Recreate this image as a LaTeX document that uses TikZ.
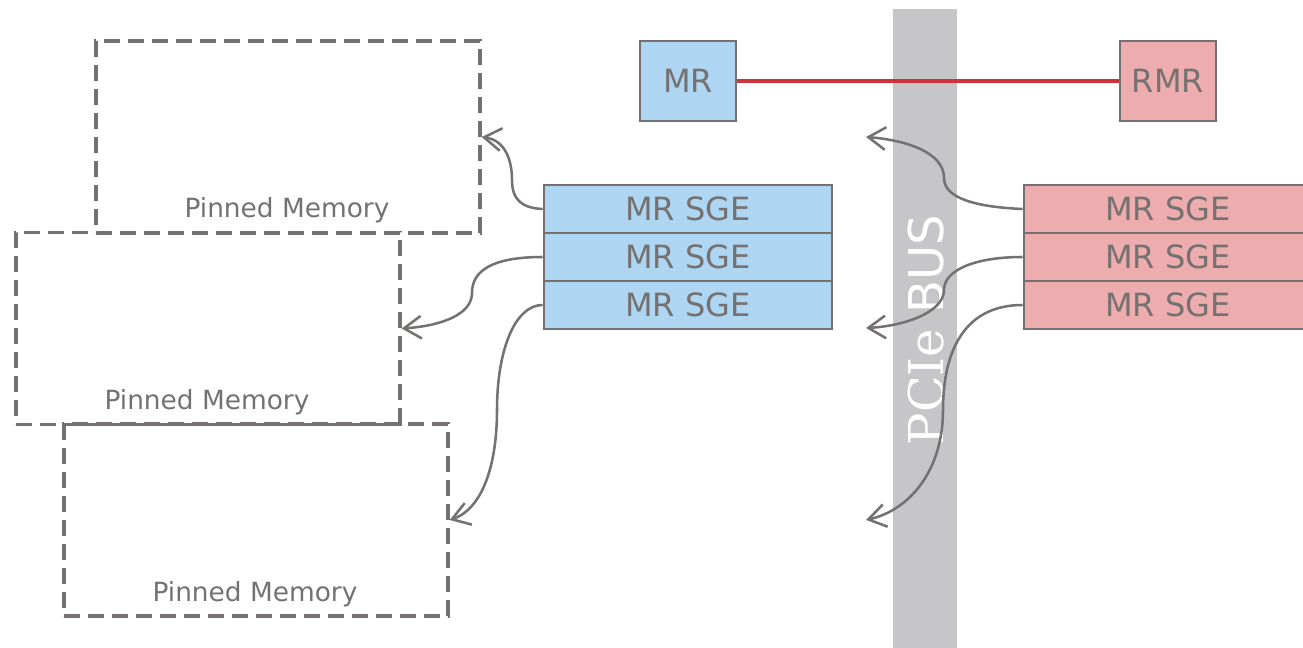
\documentclass[tikz,border=0pt]{standalone}
\usepackage{fontspec}
\setmainfont{DejaVu Sans}
\newfontfamily\pcserif{DejaVu Serif}
\usetikzlibrary{arrows.meta}
\definecolor{lgray}{HTML}{767171}
\definecolor{bfill}{HTML}{AED5F1}
\definecolor{pfill}{HTML}{EDADAE}
\definecolor{barc}{HTML}{C6C6C8}
\definecolor{redl}{HTML}{D0323A}
\tikzset{
  membox/.style={draw=lgray, line width=2.5pt, dash pattern=on 12pt off 6pt, minimum width=288pt, minimum height=144pt, inner sep=0pt},
  memlabel/.style={text=lgray, font=\fontsize{19.8}{23}\selectfont, inner sep=0pt},
  mrbox/.style={draw=lgray, line width=2.1pt, minimum width=72pt, minimum height=60pt, inner sep=0pt, text=lgray, font=\fontsize{24}{28}\selectfont, text depth=0pt, text height=17.5pt},
  sgebox/.style={draw=lgray, line width=2.1pt, minimum width=216pt, minimum height=36pt, inner sep=0pt, text=lgray, font=\fontsize{24}{28}\selectfont, text depth=0pt, text height=17.5pt},
  conn/.style={draw=lgray, line width=1.9pt, -{Straight Barb[length=13pt, width=17pt, line width=1.9pt]}},
}
\begin{document}
\begin{tikzpicture}[x=0.75pt, y=-0.75pt]
\useasboundingbox (0,0) rectangle (1303,648);
% PCIe bus
\fill[barc] (893,9) rectangle (957,648);
\node[rotate=90, text=white, font=\fontsize{36}{40}\selectfont, inner sep=0pt] (bus) at (926,330) {{\pcserif PCIe} BUS};
% pinned memory boxes
\node[membox] (box1) at (288,137) {};
\node[membox] (box2) at (208,328.5) {};
\node[membox] (box3) at (256,520) {};
\node[memlabel] (lab1) at (287,210) {Pinned Memory};
\node[memlabel] (lab2) at (207,402) {Pinned Memory};
\node[memlabel] (lab3) at (255,594) {Pinned Memory};
% MR / RMR
\node[mrbox, fill=bfill] (mr) at (688,81) {MR};
\node[mrbox, fill=pfill] (rmr) at (1168,81) {RMR};
\draw[redl, line width=2.5pt] (mr.east) -- (rmr.west);
% SGE stacks
\node[sgebox, fill=bfill] (b1) at (688,209) {MR SGE};
\node[sgebox, fill=bfill] (b2) at (688,257) {MR SGE};
\node[sgebox, fill=bfill] (b3) at (688,305) {MR SGE};
\node[sgebox, fill=pfill] (p1) at (1168,209) {MR SGE};
\node[sgebox, fill=pfill] (p2) at (1168,257) {MR SGE};
\node[sgebox, fill=pfill] (p3) at (1168,305) {MR SGE};
% free ends on the bus side
\coordinate (t1) at (866,137);
\coordinate (t2) at (866,328);
\coordinate (t3) at (866,520);
% left connectors
\draw[conn] (b1.west) .. controls (522,208) and (512,200) .. (512,180) .. controls (512,160) and (505,140) .. (box1.east);
\draw[conn] (b2.west) .. controls (490,257) and (472,272) .. (472,293) .. controls (472,315) and (440,326) .. (box2.east);
\draw[conn] (b3.west) .. controls (515,305) and (497,350) .. (497,410) .. controls (497,470) and (480,510) .. (box3.east);
% right connectors
\draw[conn] (p1.west) .. controls (975,207) and (944,198) .. (944,178) .. controls (944,152) and (905,140) .. (t1);
\draw[conn] (p2.west) .. controls (975,257) and (944,270) .. (944,290) .. controls (944,312) and (905,326) .. (t2);
\draw[conn] (p3.west) .. controls (965,305) and (943,350) .. (943,410) .. controls (943,470) and (910,510) .. (t3);
\end{tikzpicture}
\end{document}
